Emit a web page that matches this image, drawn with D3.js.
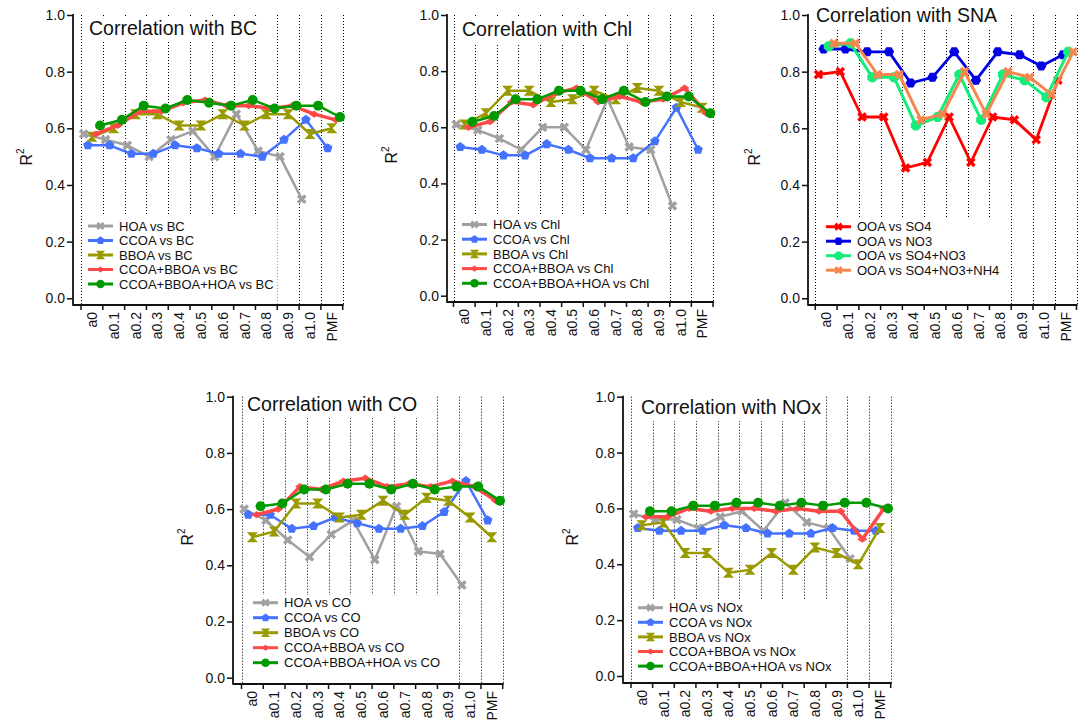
<!DOCTYPE html>
<html><head><meta charset="utf-8">
<script src="https://cdn.jsdelivr.net/npm/d3@7"></script>
<style>body{margin:0;background:#fff}svg{display:block}</style>
</head><body>
<svg id="c" width="1081" height="726"></svg>
<script>
// ---------- data ----------
const categories = ["a0","a0.1","a0.2","a0.3","a0.4","a0.5","a0.6","a0.7","a0.8","a0.9","a1.0","PMF"];
const yTickValues = [0, 0.2, 0.4, 0.6, 0.8, 1.0];

// Correlation with BC
const bcHOA  = [0.58,0.56,0.54,0.50,0.56,0.59,0.50,0.65,0.52,0.50,0.35];
const bcCCOA = [0.54,0.54,0.51,0.51,0.54,0.53,0.51,0.51,0.50,0.56,0.63,0.53];
const bcBBOA = [0.57,0.60,0.65,0.65,0.61,0.61,0.65,0.61,0.65,0.65,0.58,0.60];
const bcCB   = [0.58,0.61,0.66,0.66,0.69,0.70,0.68,0.68,0.67,0.68,0.65,0.63];
const bcCBH  = [0.61,0.63,0.68,0.67,0.70,0.69,0.68,0.70,0.67,0.68,0.68,0.64];
// Correlation with Chl
const chlHOA  = [0.61,0.59,0.56,0.52,0.60,0.60,0.52,0.70,0.53,0.52,0.32];
const chlCCOA = [0.53,0.52,0.50,0.50,0.54,0.52,0.49,0.49,0.49,0.55,0.67,0.52];
const chlBBOA = [0.61,0.65,0.73,0.73,0.69,0.70,0.73,0.70,0.74,0.73,0.69,0.67];
const chlCB   = [0.60,0.62,0.69,0.68,0.72,0.74,0.69,0.71,0.69,0.70,0.74,0.65];
const chlCBH  = [0.62,0.64,0.70,0.70,0.73,0.73,0.70,0.73,0.69,0.71,0.71,0.65];
// Correlation with SNA
const snaSO4 = [0.79,0.80,0.64,0.64,0.46,0.48,0.64,0.48,0.64,0.63,0.56,0.77];
const snaNO3 = [0.88,0.88,0.87,0.87,0.76,0.78,0.87,0.77,0.87,0.86,0.82,0.86];
const snaSN  = [0.89,0.90,0.78,0.78,0.61,0.64,0.79,0.63,0.79,0.77,0.71,0.87];
const snaSNA = [0.90,0.90,0.79,0.79,0.63,0.65,0.80,0.65,0.80,0.78,0.72,0.87];
// Correlation with CO
const coHOA  = [0.60,0.56,0.49,0.43,0.51,0.56,0.42,0.61,0.45,0.44,0.33];
const coCCOA = [0.58,0.58,0.53,0.54,0.57,0.55,0.53,0.53,0.54,0.59,0.70,0.56];
const coBBOA = [0.50,0.52,0.62,0.62,0.57,0.58,0.63,0.58,0.64,0.63,0.57,0.50];
const coCB   = [0.58,0.60,0.68,0.67,0.70,0.71,0.68,0.69,0.68,0.70,0.68,0.63];
const coCBH  = [0.61,0.62,0.67,0.67,0.69,0.69,0.67,0.69,0.67,0.68,0.68,0.63];
// Correlation with NOx
const noxHOA  = [0.58,0.56,0.56,0.53,0.57,0.59,0.52,0.62,0.55,0.53,0.42];
const noxCCOA = [0.53,0.52,0.52,0.52,0.54,0.53,0.51,0.51,0.51,0.53,0.52,0.52];
const noxBBOA = [0.54,0.55,0.44,0.44,0.37,0.38,0.44,0.38,0.46,0.44,0.40,0.53];
const noxCB   = [0.57,0.57,0.60,0.59,0.60,0.60,0.59,0.60,0.59,0.59,0.49,0.60];
const noxCBH  = [0.59,0.59,0.61,0.61,0.62,0.62,0.61,0.62,0.61,0.62,0.62,0.60];

// ---------- styles ----------
const sHOA  = {color:"#a0a0a0", marker:"xstar",    width:2.5};
const sCCOA = {color:"#4472ff", marker:"pentagon", width:2.5};
const sBBOA = {color:"#999900", marker:"hourglass",width:2.5};
const sCB   = {color:"#ff4848", marker:"diamond",  width:3.5};
const sCBH  = {color:"#009a00", marker:"circle",   width:2.5};
const sSO4  = {color:"#ff0000", marker:"xstar",    width:2.8};
const sNO3  = {color:"#0000e0", marker:"hexagon",  width:2.8};
const sSN   = {color:"#14ec7c", marker:"octagon",  width:3};
const sSNA  = {color:"#f7864e", marker:"xstar",    width:3};

const FONT = "'Liberation Sans', Arial, Helvetica, sans-serif";
const INK = "#111";

const panels = [
  {title:"Correlation with BC", axisX:73, x0:81, x1:342.7, yTop:15, yZero:298.3, xAxisY:305,
   tx:89, ty:35, lx:88, ly:226, ldy:14.5, lTop:216, rx:32, ry:157,
   series:[["HOA vs BC",bcHOA,sHOA],["CCOA vs BC",bcCCOA,sCCOA],["BBOA vs BC",bcBBOA,sBBOA],["CCOA+BBOA vs BC",bcCB,sCB],["CCOA+BBOA+HOA vs BC",bcCBH,sCBH]]},
  {title:"Correlation with Chl", axisX:447, x0:453.5, x1:713, yTop:15, yZero:295.7, xAxisY:302,
   tx:462, ty:36, lx:462, ly:224.5, ldy:14.7, lTop:216, rx:397, ry:155,
   series:[["HOA vs Chl",chlHOA,sHOA],["CCOA vs Chl",chlCCOA,sCCOA],["BBOA vs Chl",chlBBOA,sBBOA],["CCOA+BBOA vs Chl",chlCB,sCB],["CCOA+BBOA+HOA vs Chl",chlCBH,sCBH]]},
  {title:"Correlation with SNA", axisX:808, x0:815.3, x1:1076.5, yTop:15, yZero:298.3, xAxisY:305,
   tx:816, ty:22, lx:826, ly:226.7, ldy:14.5, lTop:217, rx:760, ry:157,
   series:[["OOA vs SO4",snaSO4,sSO4],["OOA vs NO3",snaNO3,sNO3],["OOA vs SO4+NO3",snaSN,sSN],["OOA vs SO4+NO3+NH4",snaSNA,sSNA]]},
  {title:"Correlation with CO", axisX:233, x0:241.5, x1:502.7, yTop:396.7, yZero:677.7, xAxisY:684,
   tx:247, ty:411, lx:253, ly:602.7, ldy:15, lTop:595, rx:193, ry:537,
   series:[["HOA vs CO",coHOA,sHOA],["CCOA vs CO",coCCOA,sCCOA],["BBOA vs CO",coBBOA,sBBOA],["CCOA+BBOA vs CO",coCB,sCB],["CCOA+BBOA+HOA vs CO",coCBH,sCBH]]},
  {title:"Correlation with NOx", axisX:623, x0:631, x1:890.7, yTop:396.7, yZero:676, xAxisY:683,
   tx:641, ty:414, lx:638, ly:607.7, ldy:14.6, lTop:600, rx:578, ry:537,
   series:[["HOA vs NOx",noxHOA,sHOA],["CCOA vs NOx",noxCCOA,sCCOA],["BBOA vs NOx",noxBBOA,sBBOA],["CCOA+BBOA vs NOx",noxCB,sCB],["CCOA+BBOA+HOA vs NOx",noxCBH,sCBH]]}
];

function polygon(n, r, rot) {
  const pts = d3.range(n).map(k => {
    const a = rot + k * 2 * Math.PI / n;
    return [r * Math.cos(a), r * Math.sin(a)];
  });
  return "M" + pts.map(p => p[0].toFixed(2) + "," + p[1].toFixed(2)).join("L") + "Z";
}
function markerPath(type) {
  switch (type) {
    case "xstar": return d3.symbol(d3.symbolCross, 58)();
    case "pentagon": return polygon(5, 5, -Math.PI / 2);
    case "hexagon": return polygon(6, 5.2, 0);
    case "octagon": return polygon(8, 5.4, Math.PI / 8);
    case "hourglass": return "M-5.5,-5L5.5,-5L0.9,0L5.5,5L-5.5,5L-0.9,0Z";
    case "diamond": return "M-5,0L0,-3.6L5,0L0,3.6Z";
    case "circle": return d3.symbol(d3.symbolCircle, Math.PI * 25)();
  }
}
function markerRot(type) { return type === "xstar" ? 45 : 0; }

const svg = d3.select("#c");

panels.forEach(p => {
  const g = svg.append("g");
  const x = d3.scaleBand().domain(categories).range([p.x0, p.x1]).paddingInner(0).paddingOuter(0);
  const y = d3.scaleLinear().domain([0, 1]).range([p.yZero, p.yTop]);
  const bw = x.bandwidth();
  const bounds = categories.map(c => x(c)).concat([p.x1]);

  // dotted category boundaries
  g.append("g").selectAll("line").data(bounds).join("line")
    .attr("x1", d => Math.round(d) + 0.5).attr("x2", d => Math.round(d) + 0.5)
    .attr("y1", p.yTop).attr("y2", p.xAxisY)
    .attr("stroke", "#000").attr("stroke-width", 1).attr("stroke-dasharray", "1,2");

  // title (white box behind)
  const titleG = g.append("g");
  const titleBg = titleG.append("rect").attr("fill", "#fff");
  const title = titleG.append("text").attr("x", p.tx).attr("y", p.ty)
    .attr("font-family", FONT).attr("font-size", 19.5).attr("fill", INK).text(p.title);
  const tb = title.node().getBBox();
  titleBg.attr("x", tb.x - 4).attr("y", Math.max(p.yTop - 2, tb.y)).attr("width", tb.width + 8)
    .attr("height", (tb.y + tb.height + 3) - Math.max(p.yTop - 2, tb.y));

  // legend background
  const legG = g.append("g");
  const legBg = legG.append("rect").attr("fill", "#fff");

  // y axis
  const yAx = g.append("g").attr("transform", `translate(${p.axisX},0)`)
    .call(d3.axisLeft(y).tickValues(yTickValues).tickFormat(d3.format(".1f")).tickSize(6).tickPadding(2));
  yAx.select(".domain").remove();
  yAx.selectAll(".tick line").attr("stroke", INK).attr("stroke-width", 1.5);
  yAx.selectAll(".tick text").attr("font-family", FONT).attr("font-size", 14).attr("fill", INK);
  g.append("line").attr("x1", p.axisX).attr("x2", p.axisX).attr("y1", p.yTop - 1).attr("y2", p.xAxisY + 0.75)
    .attr("stroke", INK).attr("stroke-width", 1.8);

  // x axis
  g.append("line").attr("x1", p.axisX).attr("x2", p.x1 + 1).attr("y1", p.xAxisY).attr("y2", p.xAxisY)
    .attr("stroke", INK).attr("stroke-width", 1.8);
  g.append("g").selectAll("line").data(bounds).join("line")
    .attr("x1", d => d).attr("x2", d => d).attr("y1", p.xAxisY).attr("y2", p.xAxisY + 5)
    .attr("stroke", INK).attr("stroke-width", 1.5);
  g.append("g").selectAll("text").data(categories).join("text")
    .attr("transform", d => `translate(${x(d) + bw / 2},${p.xAxisY + 7}) rotate(-90)`)
    .attr("dy", "0.36em").attr("text-anchor", "end")
    .attr("font-family", FONT).attr("font-size", 14).attr("fill", INK).text(d => d);

  // y label R^2
  const rl = g.append("text").attr("transform", `translate(${p.rx},${p.ry}) rotate(-90)`)
    .attr("text-anchor", "middle").attr("font-family", FONT).attr("font-size", 16).attr("fill", INK);
  rl.append("tspan").text("R");
  rl.append("tspan").attr("dy", -8).attr("font-size", 10).text("2");

  // series
  const n = p.series.length;
  const line = d3.line();
  p.series.forEach(([name, vals, st], i) => {
    const off = 0.03 + 0.94 * (i + 0.5) / n;
    const pts = vals.map((v, j) => [x(categories[j]) + bw * off, y(v)]);
    const sg = g.append("g");
    sg.append("path").attr("d", line(pts)).attr("fill", "none")
      .attr("stroke", st.color).attr("stroke-width", st.width).attr("stroke-linejoin", "round");
    sg.selectAll("path.m").data(pts).join("path").attr("class", "m")
      .attr("d", markerPath(st.marker))
      .attr("transform", d => `translate(${d[0]},${d[1]}) rotate(${markerRot(st.marker)})`)
      .attr("fill", st.color);
  });

  // legend entries
  let maxRight = 0;
  p.series.forEach(([name, vals, st], k) => {
    const yy = p.ly + k * p.ldy;
    legG.append("line").attr("x1", p.lx).attr("x2", p.lx + 25).attr("y1", yy).attr("y2", yy)
      .attr("stroke", st.color).attr("stroke-width", 3);
    legG.append("path").attr("d", markerPath(st.marker))
      .attr("transform", `translate(${p.lx + 12.5},${yy}) rotate(${markerRot(st.marker)}) scale(0.85)`)
      .attr("fill", st.color);
    const t = legG.append("text").attr("x", p.lx + 31).attr("y", yy).attr("dy", "0.36em")
      .attr("font-family", FONT).attr("font-size", 13).attr("fill", INK).text(name);
    const b = t.node().getBBox();
    maxRight = Math.max(maxRight, b.x + b.width);
  });
  legBg.attr("x", p.lx - 3).attr("y", p.lTop).attr("width", maxRight + 4 - (p.lx - 3))
    .attr("height", p.xAxisY - 1 - p.lTop);
});
</script>
</body></html>
